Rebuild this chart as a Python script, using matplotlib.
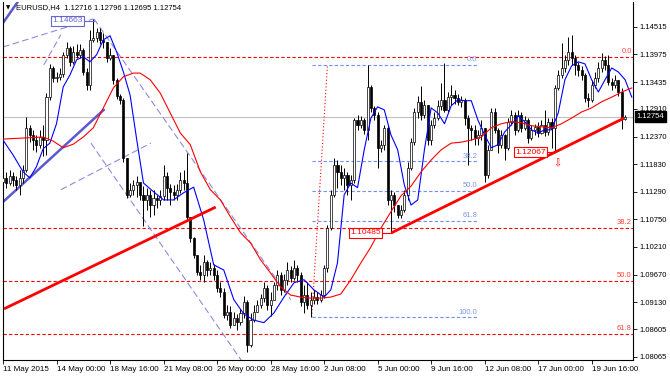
import numpy as np
import matplotlib
matplotlib.use('Agg')
import matplotlib.pyplot as plt
import matplotlib.transforms as mtransforms

plt.rcParams['font.family'] = ['Liberation Sans', 'DejaVu Sans']

# H4 candles, one value per bar (open = previous close)
first_open = 1.1148
closes = [1.1156, 1.1146, 1.1160, 1.1152, 1.1142, 1.1156, 1.1172, 1.1254, 1.1240, 1.1230,
          1.1221, 1.1236, 1.1230, 1.1314, 1.1371, 1.1352, 1.1354, 1.1359, 1.1397, 1.1410,
          1.1383, 1.1402, 1.1397, 1.1406, 1.1363, 1.1338, 1.1426, 1.1430, 1.1441, 1.1426,
          1.1422, 1.1391, 1.1397, 1.1348, 1.1316, 1.1309, 1.1195, 1.1123, 1.1133, 1.1142,
          1.1148, 1.1123, 1.1113, 1.1123, 1.1103, 1.1117, 1.1113, 1.1121, 1.1160, 1.1137,
          1.1129, 1.1123, 1.1133, 1.1152, 1.1146, 1.1080, 1.1039, 1.1006, 1.0972, 1.0966,
          1.0992, 1.0976, 1.0980, 1.0966, 1.0941, 1.0933, 1.0888, 1.0894, 1.0869, 1.0882,
          1.0875, 1.0892, 1.0914, 1.0830, 1.0878, 1.0894, 1.0908, 1.0921, 1.0941, 1.0908,
          1.0918, 1.0947, 1.0966, 1.0937, 1.0957, 1.0976, 1.0961, 1.0980, 1.0966, 1.0914,
          1.0927, 1.0908, 1.0918, 1.0923, 1.0918, 1.0927, 1.0980, 1.1058, 1.1123, 1.1181,
          1.1168, 1.1156, 1.1162, 1.1142, 1.1152, 1.1269, 1.1260, 1.1269, 1.1250, 1.1334,
          1.1293, 1.1279, 1.1215, 1.1221, 1.1254, 1.1113, 1.1123, 1.1103, 1.1084, 1.1093,
          1.1123, 1.1176, 1.1226, 1.1285, 1.1305, 1.1279, 1.1299, 1.1230, 1.1260, 1.1273,
          1.1297, 1.1309, 1.1289, 1.1314, 1.1318, 1.1312, 1.1305, 1.1309, 1.1273, 1.1254,
          1.1250, 1.1234, 1.1240, 1.1254, 1.1162, 1.1211, 1.1285, 1.1250, 1.1221, 1.1240,
          1.1215, 1.1266, 1.1279, 1.1250, 1.1279, 1.1254, 1.1269, 1.1234, 1.1250, 1.1256,
          1.1244, 1.1260, 1.1246, 1.1266, 1.1254, 1.1332, 1.1357, 1.1371, 1.1387, 1.1402,
          1.1391, 1.1377, 1.1367, 1.1357, 1.1312, 1.1309, 1.1338, 1.1352, 1.1371, 1.1387,
          1.1377, 1.1344, 1.1338, 1.1348, 1.1324, 1.12716, 1.12754]
highs = [1.1172, 1.1168, 1.1172, 1.1168, 1.1160, 1.1172, 1.1181, 1.1275, 1.1260, 1.1250,
         1.1240, 1.1250, 1.1260, 1.1322, 1.1379, 1.1375, 1.1363, 1.1371, 1.1402, 1.1422,
         1.1414, 1.1414, 1.1418, 1.1418, 1.1410, 1.1371, 1.1445, 1.14663, 1.1449, 1.1449,
         1.1440, 1.1422, 1.1410, 1.1397, 1.1352, 1.1320, 1.1312, 1.1195, 1.1146, 1.1152,
         1.1160, 1.1142, 1.1140, 1.1137, 1.1133, 1.1133, 1.1123, 1.1133, 1.1181, 1.1168,
         1.1144, 1.1142, 1.1144, 1.1168, 1.1172, 1.1205, 1.1080, 1.1041, 1.1006, 1.0986,
         1.1006, 1.0996, 1.0992, 1.0988, 1.0976, 1.0953, 1.0941, 1.0908, 1.0906, 1.0894,
         1.0890, 1.0900, 1.0925, 1.0918, 1.0892, 1.0908, 1.0918, 1.0929, 1.0953, 1.0947,
         1.0933, 1.0953, 1.0976, 1.0972, 1.0968, 1.0992, 1.0984, 1.0996, 1.0986, 1.0972,
         1.0947, 1.0953, 1.0933, 1.0937, 1.0933, 1.0937, 1.0986, 1.1064, 1.1133, 1.1195,
         1.1191, 1.1181, 1.1176, 1.1168, 1.1162, 1.1273, 1.1279, 1.1277, 1.1273, 1.1377,
         1.1338, 1.1297, 1.1285, 1.1230, 1.1260, 1.1260, 1.1133, 1.1129, 1.1103, 1.1103,
         1.1133, 1.1187, 1.1234, 1.1293, 1.1316, 1.1336, 1.1309, 1.1299, 1.1269, 1.1285,
         1.1309, 1.1342, 1.1381, 1.1324, 1.1338, 1.1328, 1.1320, 1.1316, 1.1312, 1.1279,
         1.1260, 1.1260, 1.1250, 1.1269, 1.1254, 1.1221, 1.1293, 1.1293, 1.1254, 1.1250,
         1.1242, 1.1273, 1.1289, 1.1285, 1.1289, 1.1285, 1.1277, 1.1273, 1.1260, 1.1262,
         1.1266, 1.1269, 1.1289, 1.1273, 1.1273, 1.1338, 1.1367, 1.1420, 1.1397, 1.1432,
         1.1436, 1.1397, 1.1383, 1.1375, 1.1361, 1.1322, 1.1348, 1.1363, 1.1383, 1.1400,
         1.1395, 1.1397, 1.1352, 1.1357, 1.1348, 1.1332, 1.12796]
lows = [1.1140, 1.1137, 1.1142, 1.1140, 1.1133, 1.1123, 1.1146, 1.1168, 1.1226, 1.1211,
        1.1207, 1.1215, 1.1199, 1.1201, 1.1309, 1.1344, 1.1344, 1.1348, 1.1354, 1.1391,
        1.1375, 1.1379, 1.1391, 1.1391, 1.1357, 1.1328, 1.1328, 1.1422, 1.1422, 1.1418,
        1.1410, 1.1383, 1.1387, 1.1340, 1.1311, 1.1301, 1.1187, 1.1117, 1.1119, 1.1123,
        1.1119, 1.1113, 1.1062, 1.1093, 1.1080, 1.1084, 1.1097, 1.1103, 1.1113, 1.1113,
        1.1103, 1.1113, 1.1113, 1.1127, 1.1133, 1.1074, 1.1031, 1.1000, 1.0966, 1.0957,
        1.0953, 1.0964, 1.0966, 1.0957, 1.0933, 1.0923, 1.0882, 1.0878, 1.0863, 1.0869,
        1.0859, 1.0869, 1.0882, 1.0816, 1.0826, 1.0875, 1.0894, 1.0902, 1.0914, 1.0898,
        1.0886, 1.0921, 1.0937, 1.0927, 1.0933, 1.0947, 1.0953, 1.0957, 1.0953, 1.0906,
        1.0892, 1.0900, 1.0884, 1.0910, 1.0910, 1.0914, 1.0921, 1.0972, 1.1054, 1.1119,
        1.1137, 1.1142, 1.1133, 1.1123, 1.1113, 1.1146, 1.1250, 1.1254, 1.1242, 1.1230,
        1.1285, 1.1269, 1.1176, 1.1207, 1.1211, 1.1103, 1.10485, 1.1090, 1.1078, 1.1078,
        1.1090, 1.1113, 1.1172, 1.1221, 1.1273, 1.1269, 1.1273, 1.1221, 1.1221, 1.1254,
        1.1269, 1.1289, 1.1285, 1.1285, 1.1299, 1.1301, 1.1299, 1.1295, 1.1260, 1.1181,
        1.1230, 1.1221, 1.1221, 1.1230, 1.1148, 1.1156, 1.1211, 1.1244, 1.1205, 1.1215,
        1.1191, 1.1211, 1.1260, 1.1240, 1.1246, 1.1246, 1.1250, 1.1224, 1.1230, 1.1240,
        1.1236, 1.1242, 1.1238, 1.1240, 1.1215, 1.12067, 1.1328, 1.1352, 1.1363, 1.1377,
        1.1377, 1.1357, 1.1355, 1.1348, 1.1305, 1.1295, 1.1305, 1.1332, 1.1344, 1.1363,
        1.1367, 1.1338, 1.1328, 1.1332, 1.1316, 1.1252, 1.12695]

# moving averages as drawn (bar index, price)
blue_bars = [0, 3, 6, 8, 10, 12, 14, 16, 18, 20, 22, 24, 26, 28, 30, 32, 34, 36, 38, 40,
             42, 45, 48, 51, 54, 57, 60, 63, 66, 69, 72, 75, 78, 81, 84, 87, 90, 93, 96, 98,
             100, 102, 104, 106, 108, 110, 112, 114, 116, 118, 120, 122, 124, 126, 128, 130,
             132, 134, 136, 138, 140, 142, 144, 146, 148, 150, 152, 154, 156, 158, 160, 162,
             164, 166, 168, 170, 172, 174, 176, 178, 180, 182, 184, 186, 188]
blue_ma = [1.1230, 1.1201, 1.1168, 1.1156, 1.1178, 1.1213, 1.1224, 1.1262, 1.1334, 1.1357,
           1.1387, 1.1393, 1.1383, 1.1397, 1.1426, 1.1434, 1.1402, 1.1363, 1.1318, 1.1230,
           1.1146, 1.1129, 1.1113, 1.1113, 1.1127, 1.1138, 1.1074, 1.0986, 1.0976, 1.0918,
           1.0890, 1.0878, 1.0873, 1.0892, 1.0923, 1.0951, 1.0957, 1.0937, 1.0923, 1.0937,
           1.0990, 1.1123, 1.1146, 1.1137, 1.1211, 1.1273, 1.1295, 1.1289, 1.1240, 1.1211,
           1.1142, 1.1103, 1.1113, 1.1211, 1.1293, 1.1283, 1.1262, 1.1297, 1.1309, 1.1307,
           1.1307, 1.1269, 1.1240, 1.1215, 1.1221, 1.1246, 1.1260, 1.1277, 1.1266, 1.1250,
           1.1244, 1.1250, 1.1250, 1.1283, 1.1348, 1.1375, 1.1383, 1.1379, 1.1348, 1.1324,
           1.1348, 1.1371, 1.1363, 1.1348, 1.1314]
red_bars = [0, 6, 12, 15, 18, 21, 24, 27, 30, 33, 36, 39, 41, 44, 47, 50, 53, 56, 59, 62,
            65, 68, 71, 74, 77, 80, 83, 86, 89, 92, 95, 98, 101, 104, 107, 110, 113, 116,
            119, 122, 125, 128, 131, 134, 137, 140, 143, 146, 149, 152, 155, 158, 161, 164,
            167, 170, 173, 176, 179, 182, 185, 188]
red_ma = [1.1232, 1.1234, 1.1236, 1.1228, 1.1215, 1.1222, 1.1236, 1.1254, 1.1293, 1.1332,
          1.1354, 1.1361, 1.1361, 1.1348, 1.1322, 1.1283, 1.1244, 1.1221, 1.1168, 1.1133,
          1.1113, 1.1080, 1.1049, 1.1029, 1.0996, 1.0970, 1.0943, 1.0927, 1.0923, 1.0921,
          1.0921, 1.0923, 1.0929, 1.0957, 1.0990, 1.1021, 1.1058, 1.1090, 1.1121, 1.1140,
          1.1168, 1.1191, 1.1211, 1.1224, 1.1226, 1.1230, 1.1236, 1.1254, 1.1262, 1.1266,
          1.1264, 1.1258, 1.1256, 1.1254, 1.1262, 1.1273, 1.1285, 1.1293, 1.1305, 1.1314,
          1.1324, 1.1332]

price_ticks = [1.14515, 1.13975, 1.13435, 1.12910, 1.12370, 1.11830, 1.11290,
               1.10750, 1.10210, 1.09670, 1.09130, 1.08605, 1.08065]
date_bars = [0, 16, 32, 48, 64, 80, 96, 112, 128, 144, 160, 176]
date_labels = ['11 May 2015', '14 May 00:00', '18 May 16:00', '21 May 08:00',
               '26 May 00:00', '28 May 16:00', '2 Jun 08:00', '5 Jun 00:00',
               '9 Jun 16:00', '12 Jun 08:00', '17 Jun 00:00', '19 Jun 16:00']

# fibonacci objects
red_fib_high, red_fib_low = 1.1393, 1.0517
red_fib_levels = [0.0, 38.2, 50.0, 61.8]
blue_fib_high, blue_fib_low = 1.1377, 1.0884
blue_fib_levels = [0.0, 38.2, 50.0, 61.8, 100.0]
blue_fib_start, blue_fib_end = 92.3, 141.8
blue_fib_line = [(92.3, 1.0884), (97.0, 1.1377)]

# trend lines (bar, price) pairs
red_trends = [[(0.3, 1.0900), (63.6, 1.1099)],
              [(116.1, 1.10485), (185.7, 1.1273)]]
thick_blue = [[(0.0, 1.1109), (30.1, 1.1289)],
              [(0.0, 1.1459), (4.8, 1.1504)]]
dashed_lav = [[(0.0, 1.1412), (27.0, 1.1467)],
              [(12.2, 1.1377), (17.3, 1.1436)],
              [(26.3, 1.1224), (71.6, 1.0796)],
              [(27.2, 1.1467), (86.0, 1.0918)],
              [(17.3, 1.1133), (44.2, 1.1224)]]

price_labels = [('1.14663', 19.4, 1.1463, '#6666cc', 27.2),
                ('1.10485', 108.5, 1.10485, '#ff0000', 116.1),
                ('1.12067', 157.6, 1.12067, '#ff0000', 165.4)]
last_price = 1.12754
header = 'EURUSD,H4  1.12716 1.12796 1.12695 1.12754'

fig = plt.figure(figsize=(6.7, 3.76), dpi=100)
ax = fig.add_axes([3 / 670, 16 / 376, 630 / 670, 358 / 376])
ax.set_xlim(0.3, 188.36)
ax.set_ylim(1.0800, 1.1500)

# candles
c = np.array(closes)
h = np.array(highs)
l = np.array(lows)
o = np.concatenate([[first_open], c[:-1]])
idx = np.arange(len(c))
bull = c >= o
ax.vlines(idx, l, h, color='black', linewidth=0.7, zorder=3)
body = np.maximum(np.abs(c - o), 0.00008)
ax.bar(idx, body, bottom=np.minimum(o, c), width=0.62,
       color=np.where(bull, 'white', 'black'), edgecolor='black',
       linewidth=0.5, zorder=4)

# bid line
ax.axhline(last_price, color='#c0c0c0', linewidth=0.8, zorder=1)

# moving averages
ax.plot(blue_bars, blue_ma, color='#0000ff', linewidth=0.8, zorder=5)
ax.plot(red_bars, red_ma, color='#ff0000', linewidth=0.8, zorder=5)

# red fibo levels
for lv in red_fib_levels:
    p = red_fib_high - lv / 100 * (red_fib_high - red_fib_low)
    ax.axhline(p, color='#ff0000', linewidth=0.8, dashes=(3, 2), zorder=2)
    ax.text(188.0, p + 0.0003, '%.1f' % lv, color='#ff4040', fontsize=5.5,
            ha='right', va='bottom', zorder=6)

# blue fibo levels
for lv in blue_fib_levels:
    p = blue_fib_high - lv / 100 * (blue_fib_high - blue_fib_low)
    ax.plot([blue_fib_start, blue_fib_end], [p, p], color='#6f8ff0',
            linewidth=0.8, dashes=(3, 2), zorder=2)
    ax.text(blue_fib_end, p + 0.0003, '%.1f' % lv, color='#7b96e8',
            fontsize=5.5, ha='right', va='bottom', zorder=6)
(x0, y0), (x1, y1) = blue_fib_line
ax.plot([x0, x1], [y0, y1], color='#ff0000', linewidth=0.8, dashes=(1, 2), zorder=2)

# trend lines
for (xa, ya), (xb, yb) in dashed_lav:
    ax.plot([xa, xb], [ya, yb], color='#8c8ce0', linewidth=0.8,
            dashes=(6, 3), zorder=2)
for (xa, ya), (xb, yb) in thick_blue:
    ax.plot([xa, xb], [ya, yb], color='#5a5acd', linewidth=1.8, zorder=2)
for (xa, ya), (xb, yb) in red_trends:
    ax.plot([xa, xb], [ya, yb], color='#ff0000', linewidth=2.0,
            solid_capstyle='butt', zorder=6)

# price labels
for txt, bx, by, col, tip in price_labels:
    ax.plot([bx + 5, tip], [by, by], color=col, linewidth=0.8, zorder=6)
    ax.text(bx, by, txt, color=col, fontsize=6, ha='center', va='center', zorder=7,
            bbox=dict(boxstyle='square,pad=0.15', facecolor='white', edgecolor=col,
                      linewidth=0.8))
ax.text(165.7, 1.1185, '\u21e9', color='#ff0000', fontsize=7, ha='center',
        va='center', family='DejaVu Sans', zorder=7)

# axes styling
ax.yaxis.tick_right()
ax.set_yticks(price_ticks)
ax.set_yticklabels(['%.5f' % p for p in price_ticks])
ax.set_xticks(date_bars)
ax.set_xticklabels(date_labels)
for lab in ax.get_xticklabels():
    lab.set_horizontalalignment('left')
ax.tick_params(axis='both', direction='out', length=3, width=0.6,
               labelsize=5.5, pad=1.5, colors='black')
ax.tick_params(axis='x', labelsize=5.8)
for side in ['left', 'right', 'bottom']:
    ax.spines[side].set_color('black')
    ax.spines[side].set_linewidth(0.8)
ax.spines['top'].set_visible(False)

trans = mtransforms.blended_transform_factory(ax.transAxes, ax.transData)
ax.text(1.006, last_price, '1.12754', transform=trans, color='white', fontsize=5.5,
        ha='left', va='center', zorder=8,
        bbox=dict(boxstyle='square,pad=0.25', facecolor='black', edgecolor='black'))

fig.text(6 / 670, 1 - 8 / 376, '\u25bc', fontsize=4, family='DejaVu Sans',
         ha='left', va='center')
fig.text(16 / 670, 1 - 8 / 376, header, fontsize=5.5, ha='left', va='center')

fig.savefig('out.png', dpi=100)
